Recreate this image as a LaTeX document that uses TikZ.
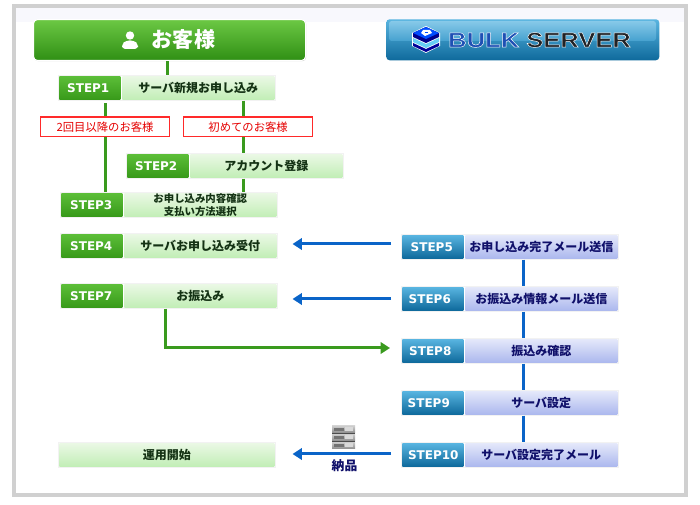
\documentclass[tikz,border=0pt]{standalone}
\usepackage{fontspec}
\setmainfont{Noto Sans CJK JP}
\newfontfamily\stepfont{DejaVu Sans}
\newfontfamily\logofont[FakeStretch=1.22]{Liberation Sans}
\usetikzlibrary{arrows.meta,shadows,calc}
\definecolor{framegray}{HTML}{D0D0D0}
\definecolor{bandcol}{HTML}{F8F8FD}
\definecolor{gline}{HTML}{3A9A1E}
\definecolor{bline}{HTML}{0A64C8}
\definecolor{gtext}{HTML}{143214}
\definecolor{btext}{HTML}{10106A}
\definecolor{redline}{HTML}{FF2A2A}
\definecolor{logoblue}{HTML}{1E50B4}
\definecolor{logodark}{HTML}{202226}
\definecolor{HG1}{HTML}{6CC844}
\definecolor{HG2}{HTML}{4FAE2A}
\definecolor{HG3}{HTML}{2F8F14}
\definecolor{HeadG}{HTML}{5CBE38}
\definecolor{FootG}{HTML}{389A1A}
\definecolor{HeadB}{HTML}{58B4E0}
\definecolor{FootB}{HTML}{0F6A9C}
\definecolor{LabTopG}{HTML}{EAF8E4}
\definecolor{LabBotG}{HTML}{C2EEB6}
\definecolor{LabTopB}{HTML}{E4E8FA}
\definecolor{LabBotB}{HTML}{ACB8EE}
\def\px{0.75pt}
\tikzset{
  x=0.75pt,y=-0.75pt,
  outerbox/.style={fill=white,draw=black!5,line width=0.4pt,minimum width=217*\px,minimum height=25*\px,inner sep=0pt,anchor=north west,
    general shadow={fill=black!28,shadow xshift=0.6pt,shadow yshift=-0.6pt}},
  stepcell/.style={minimum width=61*\px,minimum height=23*\px,inner sep=0pt,anchor=north west},
  labelcell/.style={minimum width=152*\px,minimum height=23*\px,inner sep=0pt,anchor=north west,align=center,font=\fontsize{9}{10.5}\selectfont\bfseries},
  gstep/.style={stepcell,top color=HeadG,bottom color=FootG},
  bstep/.style={stepcell,top color=HeadB,bottom color=FootB},
  glabel/.style={labelcell,top color=LabTopG,bottom color=LabBotG,text=gtext},
  blabel/.style={labelcell,top color=LabTopB,bottom color=LabBotB,text=btext},
  steptext/.style={inner sep=0pt,text=white,font=\stepfont\bfseries\fontsize{9}{10}\selectfont},
  redbox/.style={draw=redline,line width=0.9pt,fill=white,text=red!90!black,minimum width=129*\px,minimum height=19.5*\px,inner sep=0pt,anchor=north west,font=\fontsize{8.5}{9.5}\selectfont},
  gconn/.style={draw=gline,line width=2.25pt},
  bconn/.style={draw=bline,line width=2.25pt},
  garrow/.style={gconn,-{Triangle[length=7pt,width=8.5pt]}},
  barrow/.style={bconn,-{Triangle[length=7pt,width=8.5pt]}},
}
% name, x, y, scheme prefix, step text, label, text x offset
\newcommand{\flowbox}[7]{%
  \node[outerbox] (#1) at (#2,#3) {};
  \node[#4step] (#1s) at ($(#2,#3)+(1,1)$) {};
  \node[steptext] (#1t) at ($(#1s.center)+(#7,0.3)$) {#5};
  \node[#4label] (#1l) at ($(#2,#3)+(64,1)$) {#6};
}
\newcommand{\logoword}[2]{\textcolor{#1}{\special{pdf:code 1 1 1 RG 0.35 w 2 Tr}#2\special{pdf:code 0 Tr}}}
\begin{document}
\begin{tikzpicture}
\useasboundingbox (0,0) rectangle (700,505);
\fill[white] (0,0) rectangle (700,505);
% frame
\fill[bandcol] (16,8) rectangle (684,22);
\draw[framegray,line width=2.6pt] (14,6) rectangle (686,495);
% header
\node[draw=white,line width=0.8pt,rounded corners=3pt,top color=HG1,middle color=HG2,bottom color=HG3,
  minimum width=272*\px,minimum height=41*\px,inner sep=0pt,anchor=north west,
  general shadow={fill=black!22,shadow xshift=0.5pt,shadow yshift=-0.5pt}] (head) at (33,19) {};
\node[inner sep=0pt,text=white,font=\fontsize{15.8}{17}\selectfont\bfseries] (headt) at (183.5,40) {お客様};
\fill[white] (130,35.5) circle (4.2);
\fill[white,rounded corners=2.5pt] (122,49) -- (122,44) -- (126,40.5) -- (134,40.5) -- (138,44) -- (138,49) -- cycle;
% logo
\node[rounded corners=2.5pt,top color=HeadB,middle color=HeadB!30!FootB,bottom color=FootB,minimum width=273*\px,minimum height=41*\px,inner sep=0pt,anchor=north west] (logo) at (386,19) {};
\shade[rounded corners=2pt,top color=HeadB!72!white,bottom color=HeadB!75!FootB] (389,21) rectangle (656,41);
\fill[white] (426,26) -- (440,33) -- (440,46) -- (426,53) -- (412,46) -- (412,33) -- cycle;
\fill[blue!55!black] (426,27) -- (439,33) -- (439,37) -- (426,43) -- (413,37) -- (413,33) -- cycle;
\fill[blue!70!cyan] (426,27) -- (439,33) -- (426,39) -- (413,33) -- cycle;
\fill[cyan!60!white] (413,38) -- (426,44) -- (439,38) -- (439,42) -- (426,48) -- (413,42) -- cycle;
\fill[blue!60!black] (413,43) -- (426,49) -- (439,43) -- (439,46) -- (426,52) -- (413,46) -- cycle;
\fill[white] (423,30) -- (430,30) -- (432,33) -- (425,36) -- (421,33) -- cycle;
\fill[blue!70!cyan] (425,32) -- (428,32) -- (428,33.5) -- (425,33.5) -- cycle;
\node[inner sep=0pt,anchor=west,font=\logofont\bfseries\fontsize{15.7}{17}\selectfont] (logot) at (448,40)
 {\logoword{logoblue}{BULK} \logoword{logodark}{SERVER}};
% step boxes
\flowbox{s1}{58}{75}{g}{STEP1}{サーバ新規お申し込み}{-1.5}
\flowbox{s2}{126}{153}{g}{STEP2}{アカウント登録}{-1.5}
\flowbox{s3}{60}{192}{g}{STEP3}{\fontsize{7.8}{8.4}\selectfont お申し込み内容確認\\[-0.2pt]\fontsize{7.8}{8.4}\selectfont 支払い方法選択}{-0.5}
\flowbox{s4}{60}{233}{g}{STEP4}{サーバお申し込み受付}{-0.5}
\flowbox{s7}{60}{283}{g}{STEP7}{お振込み}{-0.5}
\flowbox{s5}{401}{234}{b}{STEP5}{お申し込み完了メール送信}{-1}
\flowbox{s6}{401}{286}{b}{STEP6}{お振込み情報メール送信}{-3}
\flowbox{s8}{401}{338}{b}{STEP8}{振込み確認}{-2.5}
\flowbox{s9}{401}{390}{b}{STEP9}{サーバ設定}{-4}
\flowbox{s10}{401}{442}{b}{STEP10}{サーバ設定完了メール}{0.5}
\node[outerbox] (start) at (58,442) {};
\node[labelcell,minimum width=215*\px,top color=LabTopG,bottom color=LabBotG,text=gtext] (startl) at (59,443) {運用開始};
% connector reference lines
\coordinate (cL) at (105.5,0);
\coordinate (cR) at (243.5,0);
\coordinate (cH) at (167.5,0);
\coordinate (cB) at (523.5,0);
\coordinate (cG) at (165.5,0);
\coordinate (a5) at (391,244);
\coordinate (a6) at (391,299);
\coordinate (a10) at (391,454);
\coordinate (g8) at (390,348);
% green connectors
\draw[gconn] (head.south -| cH) -- (s1.north -| cH);
\draw[gconn,shorten <=2.2pt] (s1.south -| cL) -- (s3.north -| cL);
\draw[gconn] (s1.south -| cR) -- (s2.north -| cR);
\draw[gconn] (s2.south -| cR) -- (s3.north -| cR);
\draw[garrow] (s7.south -| cG) |- (g8);
% blue connectors
\draw[bconn] (s5.south -| cB) -- (s6.north -| cB);
\draw[bconn] (s6.south -| cB) -- (s8.north -| cB);
\draw[bconn] (s8.south -| cB) -- (s9.north -| cB);
\draw[bconn] (s9.south -| cB) -- (s10.north -| cB);
\draw[barrow,shorten >=11.25pt] (a5) -- (a5 -| s4.east);
\draw[barrow,shorten >=11.25pt] (a6) -- (a6 -| s7.east);
\draw[barrow,shorten >=12.75pt] (a10) -- (a10 -| start.east);
% red labels
\node[redbox] (r1) at (40,116.5) {2回目以降のお客様};
\node[redbox] (r2) at (183,116.5) {初めてのお客様};
% server icon
\foreach \yy in {426,434,442}{
  \shade[top color=black!20,bottom color=black!45] (332,\yy) rectangle (355,\yy+7);
  \fill[black!55] (334,\yy+2) rectangle (344,\yy+5);
  \fill[white!85!black] (345,\yy+1.5) rectangle (353,\yy+5);
}
\fill[black!70] (332,433) rectangle (355,434);
\fill[black!70] (332,441) rectangle (355,442);
\node[inner sep=0pt,text=btext,font=\fontsize{9.6}{11}\selectfont\bfseries] (noh) at (344.5,465.5) {納品};
\end{tikzpicture}
\end{document}
